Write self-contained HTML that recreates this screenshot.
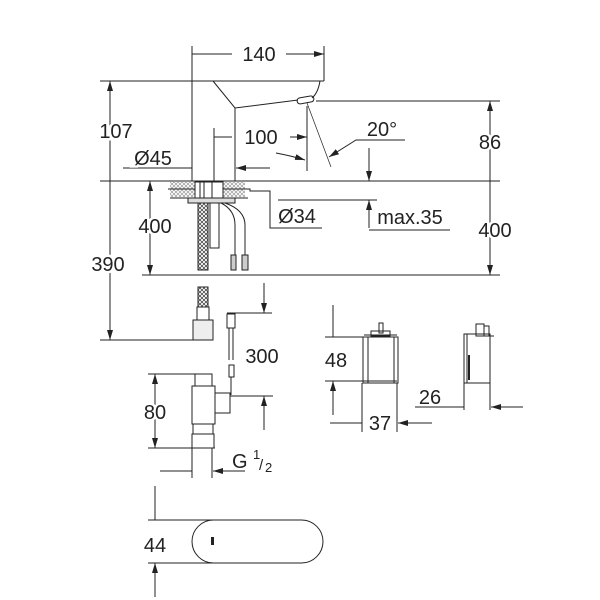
<!DOCTYPE html>
<html><head><meta charset="utf-8"><style>html,body{margin:0;padding:0;background:#fff}svg{display:block}</style></head><body>
<svg width="600" height="600" viewBox="0 0 600 600" xmlns="http://www.w3.org/2000/svg" font-family="Liberation Sans, sans-serif" font-size="20" fill="none" stroke="#222" stroke-width="1">
<defs>
<marker id="a" viewBox="0 0 10 6" refX="10" refY="3" markerWidth="10" markerHeight="6" orient="auto-start-reverse" markerUnits="userSpaceOnUse"><path d="M0,0L10,3L0,6z" fill="#222" stroke="none"/></marker>
<pattern id="x" width="4" height="4" patternUnits="userSpaceOnUse"><path d="M0,0L4,4M4,0L0,4" stroke="#333" stroke-width="0.7"/></pattern>
</defs>
<!-- 140 dim -->
<path d="M192,46V181M324,46V81"/>
<path d="M232,54H192M286,54H324" marker-end="url(#a)"/>
<!-- 107/390 -->
<path d="M100,81H324M100,181H500M100,340H210"/>
<path d="M110,81V181M110,181V340" marker-start="url(#a)" marker-end="url(#a)"/>
<!-- faucet -->
<path d="M213,81L235,108L298,100M235,108V181M320,81Q318,93 312,98"/>
<rect x="297" y="97" width="17" height="6" rx="3" transform="rotate(-10 305 100)"/>
<path d="M307,103L331,167" stroke-width="0.7"/>
<!-- 86 -->
<path d="M316,101H500"/>
<path d="M490,101V181M490,181V275" marker-start="url(#a)" marker-end="url(#a)"/>
<path d="M142,275H500"/>
<path d="M150,181V275" marker-start="url(#a)" marker-end="url(#a)"/>
<!-- 100 -->
<path d="M214,128V181M307,106V171"/>
<path d="M232,137H214M290,137H307" marker-end="url(#a)"/>
<path d="M276,153Q292,156 305,160" marker-end="url(#a)"/>
<path d="M405,140H356L329,157" marker-end="url(#a)"/>
<path d="M369,148V181" marker-end="url(#a)"/>
<!-- Ø45 -->
<path d="M123,168H192M270,168H236" marker-end="url(#a)"/>
<!-- deck -->
<rect x="170" y="182" width="75" height="15" fill="url(#x)" stroke="none" opacity="0.5"/>
<path d="M168,189H250V191H270V228H322M170,198H248M278,200H377M369,230H450"/>
<path d="M369,228V200" marker-end="url(#a)"/>
<rect x="195" y="182" width="28" height="16" fill="#fff"/>
<path d="M200,182V198M204,182V198M212,182V198"/>
<path d="M188,198H235V203H188z" fill="#ddd"/>
<rect x="198" y="203" width="10" height="67" fill="url(#x)"/>
<rect x="210" y="203" width="9" height="45"/>
<path d="M221,203Q235,210 235,225V255M225,203Q245,210 245,225V255"/>
<rect x="231" y="255" width="5" height="15" fill="#ccc"/><rect x="242" y="255" width="6" height="15" fill="#ccc"/>
<!-- lower hose -->
<rect x="198" y="287" width="10" height="20" fill="url(#x)"/>
<rect x="197" y="307" width="12" height="13"/>
<rect x="193" y="320" width="20" height="20" fill="#eee"/>
<!-- 300 -->
<path d="M264,283V313" marker-end="url(#a)"/>
<path d="M227,313H272"/>
<rect x="227" y="314" width="8" height="14"/>
<path d="M229,328V360M233,328V360"/>
<rect x="229" y="365" width="5" height="12"/>
<path d="M231,377V395"/>
<!-- valve -->
<rect x="195" y="374" width="17" height="12"/>
<rect x="192" y="386" width="23" height="38"/>
<rect x="215" y="393" width="15" height="20"/>
<rect x="193" y="424" width="20" height="10"/>
<rect x="192" y="434" width="22" height="14"/>
<path d="M148,374H200M148,448H215M230,396H273"/>
<path d="M155,374V448" marker-start="url(#a)" marker-end="url(#a)"/>
<path d="M264,430V396" marker-end="url(#a)"/>
<path d="M192,448V478M212,448V478"/>
<path d="M160,471H192M245,471H213" marker-end="url(#a)"/>
<!-- 44 -->
<path d="M148,520H213M148,563H213"/>
<path d="M155,486V520M155,597V563" marker-end="url(#a)"/>
<rect x="192" y="520" width="131" height="43" rx="21.5"/>
<rect x="211" y="537" width="3" height="8" fill="#222" stroke="none"/>
<!-- 48 -->
<path d="M325,337H367M325,381H397"/>
<path d="M333,305V337M333,415V381" marker-end="url(#a)"/>
<rect x="363" y="337" width="35" height="46"/>
<path d="M368,337V383M394,337V383M364,335H397"/>
<rect x="379" y="323" width="4" height="10"/><rect x="371" y="331" width="19" height="5"/>
<path d="M362,383V432M397,383V432"/>
<path d="M330,423H362M432,423H398" marker-end="url(#a)"/>
<!-- side -->
<rect x="464" y="334" width="26" height="49"/>
<path d="M467,334V383M490,336H494"/>
<rect x="476" y="324" width="8" height="12"/><rect x="484" y="326" width="5" height="10"/>
<path d="M469,355V380" stroke-width="2"/>
<path d="M464,383V410M490,383V410"/>
<path d="M415,407H464M523,407H491" marker-end="url(#a)"/>
<g fill="#222" stroke="#fff" stroke-width="5" paint-order="stroke" text-anchor="middle">
<text x="259" y="61">140</text>
<text x="116" y="138">107</text>
<text x="108" y="271">390</text>
<text x="153" y="165">Ø45</text>
<text x="261" y="144">100</text>
<text x="382" y="136">20°</text>
<text x="490" y="149">86</text>
<text x="155" y="233">400</text>
<text x="495" y="237">400</text>
<text x="297" y="223">Ø34</text>
<text x="410" y="224">max.35</text>
<text x="262" y="363">300</text>
<text x="155" y="419">80</text>
<text x="155" y="552">44</text>
<text x="336" y="367">48</text>
<text x="380" y="430">37</text>
<text x="430" y="404">26</text>
</g>
<g fill="#222" stroke="none">
<text x="232" y="468">G</text>
<text x="253" y="459" font-size="13">1</text>
<text x="259" y="470" font-size="15">/</text>
<text x="265" y="472" font-size="13">2</text>
</g>
</svg>
</body></html>
